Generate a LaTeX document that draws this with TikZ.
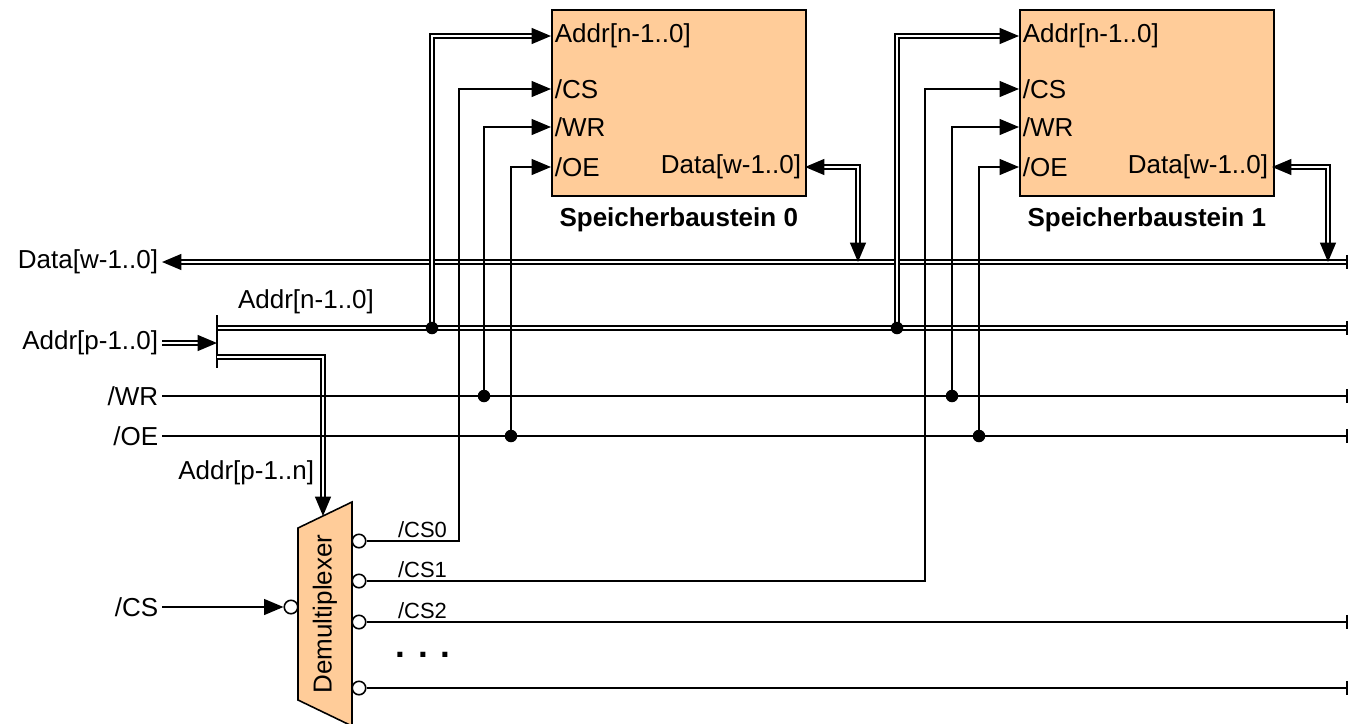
\documentclass[tikz,border=0pt]{standalone}
\usepackage{fontspec}
\setmainfont{Liberation Sans}
\usetikzlibrary{arrows.meta, positioning}
\definecolor{baustein}{RGB}{255,204,153}

\tikzset{
  spitze/.tip={Triangle[length=11pt,width=9pt]},
  strich/.tip={Bar[width=8pt,line width=1.1pt]},
  sig/.style={line width=0.9pt},
  bus/.style={double, line width=1pt, double distance=1.5pt},
  punkt/.style={circle, fill, inner sep=0pt, minimum size=0.25cm},
  neg/.style={circle, draw, line width=0.9pt, fill=white, inner sep=0pt, minimum size=0.27cm},
  speicher/.style={draw, line width=0.9pt, fill=baustein, anchor=north west,
    minimum width=5.08cm, minimum height=3.72cm, inner sep=0pt},
  anschluss/.style={inner sep=2pt},
  klein/.style={font=\fontsize{12.5}{15}\selectfont, inner sep=1pt},
  titel/.style={font=\fontsize{14.8}{17}\selectfont\bfseries}
}

\begin{document}
\begin{tikzpicture}[x=0.02cm, y=-0.02cm, font=\fontsize{14.8}{17}\selectfont]
  \useasboundingbox (0,0) rectangle (1350,724);

  % Speicherbausteine
  \node[speicher] (sb0) at (551,9) {};
  \node[speicher] (sb1) at (1019,9) {};
  \node[titel, below=0.1cm of sb0] (t0) {Speicherbaustein 0};
  \node[titel, below=0.1cm of sb1] (t1) {Speicherbaustein 1};

  \node[anschluss, anchor=west] (a0) at (551,36) {Addr[n-1..0]};
  \node[anschluss, anchor=west] (c0) at (551,89) {/CS};
  \node[anschluss, anchor=west] (w0) at (551,127) {/WR};
  \node[anschluss, anchor=west] (o0) at (551,167) {/OE};
  \node[anschluss, anchor=east] (d0) at (805,167) {Data[w-1..0]};

  \node[anschluss, anchor=west] (a1) at (1019,36) {Addr[n-1..0]};
  \node[anschluss, anchor=west] (c1) at (1019,89) {/CS};
  \node[anschluss, anchor=west] (w1) at (1019,127) {/WR};
  \node[anschluss, anchor=west] (o1) at (1019,167) {/OE};
  \node[anschluss, anchor=east] (d1) at (1272,167) {Data[w-1..0]};

  % Demultiplexer
  \draw[sig, fill=baustein] (298,528) -- (352,502) -- (352,726) -- (298,700) -- cycle;
  \node[rotate=90] (dmx) at (325,614) {Demultiplexer};
  \node[neg] (q0) at (359,541) {};
  \node[neg] (q1) at (359,581) {};
  \node[neg] (q2) at (359,622) {};
  \node[neg] (q3) at (359,688) {};
  \node[neg] (qcs) at (291,607) {};
  \node[klein, anchor=south west] (l0) at (396,540) {/CS0};
  \node[klein, anchor=south west] (l1) at (396,580) {/CS1};
  \node[klein, anchor=south west] (l2) at (396,621) {/CS2};
  \node[font=\fontsize{20}{24}\selectfont\bfseries] (pkt) at (423,655) {. . .};

  % Beschriftung links
  \node[anschluss, anchor=east] (ldata) at (162,262) {Data[w-1..0]};
  \node[anschluss, anchor=east] (laddr) at (162,343) {Addr[p-1..0]};
  \node[anschluss, anchor=east] (lwr) at (162,396) {/WR};
  \node[anschluss, anchor=east] (loe) at (162,436) {/OE};
  \node[anschluss, anchor=east] (lcs) at (162,607) {/CS};
  \node (lan) at (306,302) {Addr[n-1..0]};
  \node[anschluss, anchor=east] (lapn) at (318,473) {Addr[p-1..n]};

  \coordinate (split) at (217,343);
  \coordinate (splitO) at (217,315);
  \coordinate (splitU) at (217,368);
  \coordinate (anL) at (217,328);
  \coordinate (anR) at (1348,328);
  \coordinate (apL) at (217,357);
  \coordinate (dmxT) at (323,516);
  \coordinate (dataR) at (1348,262);
  \coordinate (wrR) at (1348,396);
  \coordinate (oeR) at (1348,436);
  \coordinate (cs2R) at (1348,622);
  \coordinate (csnR) at (1348,688);
  \coordinate (dat0) at (858,262);
  \coordinate (dat1) at (1328,262);
  \coordinate (cs0k) at (459,89);
  \coordinate (cs1k) at (925,89);
  \coordinate (an0) at (432,328);
  \coordinate (an1) at (897,328);
  \coordinate (wr0) at (484,396);
  \coordinate (wr1) at (952,396);
  \coordinate (oe0) at (511,436);
  \coordinate (oe1) at (979,436);

  % Busse und Leitungen
  \draw[bus, {strich}-{spitze}] (dataR) -- (ldata.east);
  \draw[bus, -{strich}] (anL) -- (anR);
  \draw[bus, -{spitze}] (laddr.east) -- (split);
  \draw[sig] (splitO) -- (splitU);
  \draw[bus, -{spitze}] (apL) -| (dmxT);
  \draw[sig, -{strich}] (lwr.east) -- (wrR);
  \draw[sig, -{strich}] (loe.east) -- (oeR);
  \draw[sig, -{spitze}] (lcs.east) -- (qcs.west);
  \draw[sig, -{strich}] (q2.east) -- (cs2R);
  \draw[sig, -{strich}] (q3.east) -- (csnR);
  \draw[sig, -{spitze}] (q0.east) -| (cs0k) -- (c0.west);
  \draw[sig, -{spitze}] (q1.east) -| (cs1k) -- (c1.west);

  \draw[bus, -{spitze}] (an0) |- (a0.west);
  \draw[sig, -{spitze}] (wr0) |- (w0.west);
  \draw[sig, -{spitze}] (oe0) |- (o0.west);
  \draw[bus, {spitze}-{spitze}] (d0.east) -| (dat0);

  \draw[bus, -{spitze}] (an1) |- (a1.west);
  \draw[sig, -{spitze}] (wr1) |- (w1.west);
  \draw[sig, -{spitze}] (oe1) |- (o1.west);
  \draw[bus, {spitze}-{spitze}] (d1.east) -| (dat1);

  \foreach \p in {an0, an1, wr0, wr1, oe0, oe1}
    \node[punkt] at (\p) {};
\end{tikzpicture}
\end{document}
